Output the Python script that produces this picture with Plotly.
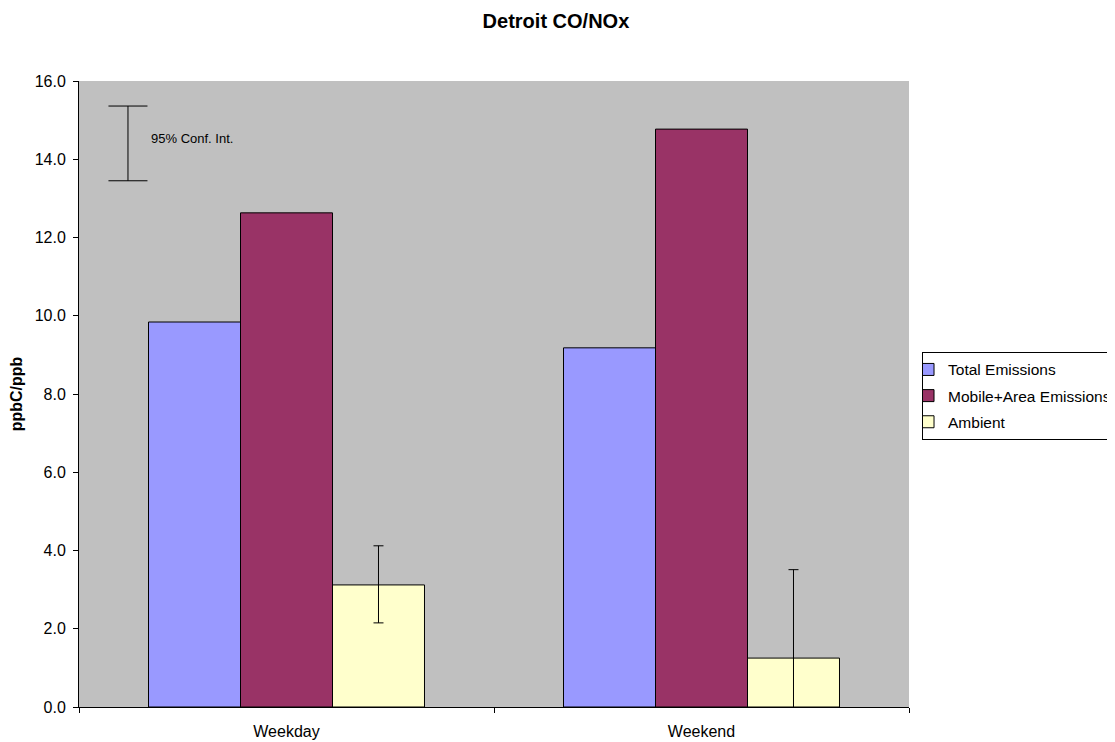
import plotly.graph_objects as go

categories = ["Weekday", "Weekend"]
total_emissions = [9.84, 9.18]
mobile_area = [12.63, 14.77]
ambient = [3.12, 1.25]
ambient_err_plus = [1.0, 2.26]
ambient_err_minus = [0.97, 2.26]
y_ticks = [0, 2, 4, 6, 8, 10, 12, 14, 16]

FONT = "Liberation Sans, Arial, sans-serif"

fig = go.Figure()
fig.add_trace(go.Bar(name="Total Emissions", x=categories, y=total_emissions, legendgroup="g1",
                     marker=dict(color="#9999FF", line=dict(color="black", width=1))))
fig.add_trace(go.Bar(name="Mobile+Area Emissions", x=categories, y=mobile_area, legendgroup="g2",
                     marker=dict(color="#993366", line=dict(color="black", width=1))))
fig.add_trace(go.Bar(name="Ambient", x=categories, y=ambient, legendgroup="g3",
                     marker=dict(color="#FFFFCC", line=dict(color="black", width=1)),
                     error_y=dict(type="data", symmetric=False, array=ambient_err_plus,
                                  arrayminus=ambient_err_minus, color="black",
                                  thickness=1, width=5)))

# 95% confidence interval key (decorative)
key_x = 0.059
fig.add_shape(type="line", xref="paper", yref="y", x0=key_x, x1=key_x, y0=13.45, y1=15.36,
              line=dict(color="black", width=1))
for yy in (13.45, 15.36):
    fig.add_shape(type="line", xref="paper", yref="y", x0=key_x - 0.0235, x1=key_x + 0.0235,
                  y0=yy, y1=yy, line=dict(color="black", width=1))
fig.add_annotation(text="95% Conf. Int.", xref="paper", yref="y", x=0.084, y=14.52,
                   xanchor="left", yanchor="middle", showarrow=False,
                   font=dict(family=FONT, size=13, color="black"))

# page body has an 8px margin: figure is offset by (8, 8)
fig.update_layout(
    width=1107, height=734,
    margin=dict(l=71, r=206, t=73, b=35, autoexpand=False),
    paper_bgcolor="white", plot_bgcolor="#C0C0C0",
    barmode="group", bargap=0.335, bargroupgap=0,
    font=dict(family=FONT, size=16, color="black"),
    title=dict(text="<b>Detroit CO/NOx</b>", x=0.495, xanchor="center", y=0.982, yanchor="middle",
               font=dict(family=FONT, size=20, color="black")),
    legend=dict(x=1.0157, y=0.497, xanchor="left", yanchor="middle",
                bordercolor="black", borderwidth=1, bgcolor="white",
                font=dict(family=FONT, size=15.5, color="black"),
                indentation=-15, itemwidth=30, tracegroupgap=3),
    showlegend=True,
)
fig.update_xaxes(showline=True, linecolor="black", linewidth=1, ticks="outside",
                 tickson="boundaries", ticklen=5, tickcolor="black", ticklabelstandoff=10,
                 tickfont=dict(family=FONT, size=16), showgrid=False, mirror=False)
fig.update_yaxes(range=[0, 16], tickvals=y_ticks, ticktext=[f"{v:.1f}" for v in y_ticks],
                 showline=True, linecolor="black", linewidth=1, ticks="outside",
                 ticklen=5, tickcolor="black", showgrid=False, zeroline=False,
                 ticklabelstandoff=4,
                 tickfont=dict(family=FONT, size=16),
                 title=dict(text="<b>ppbC/ppb</b>", font=dict(family=FONT, size=16), standoff=10))

fig.write_html("out.html")
